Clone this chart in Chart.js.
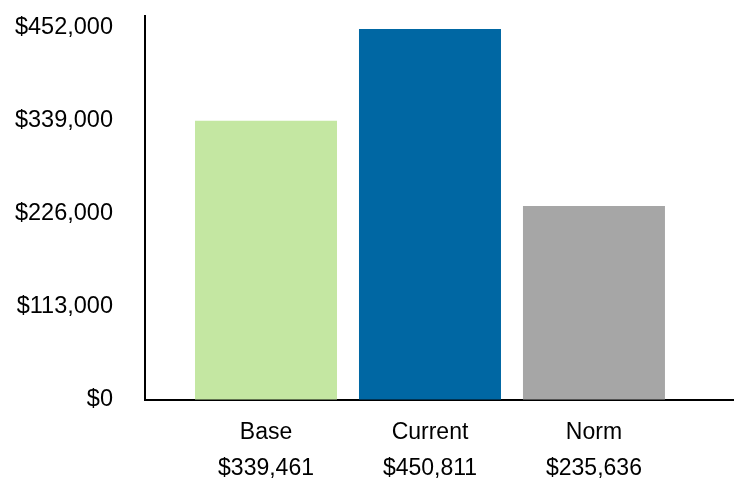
<!DOCTYPE html>
<html lang="en">
<head>
  <meta charset="UTF-8" />
  <title>Base vs Current vs Norm</title>
  <script src="https://cdn.jsdelivr.net/npm/chart.js"></script>
  <style>
    * { margin: 0; padding: 0; box-sizing: border-box; }
    body { background: #fff; overflow: hidden; }
    .wrap { width: 734px; height: 480px; }
  </style>
</head>
<body>
  <div class="wrap"><canvas id="barChart"></canvas></div>

  <script>
    const categories = ['Base', 'Current', 'Norm'];
    const amounts = [339461, 450811, 235636];
    const barColors = ['#c4e7a2', '#0067a3', '#a6a6a6'];
    const yTickValues = [0, 113000, 226000, 339000, 452000];

    const money = v => '$' + v.toLocaleString('en-US');
    const family = "'Liberation Sans', Arial, sans-serif";

    new Chart(document.getElementById('barChart'), {
      type: 'bar',
      data: {
        datasets: [{
          data: amounts.map((v, i) => ({ x: i, y: v })),
          backgroundColor: barColors,
          borderWidth: 0,
          categoryPercentage: 1,
          barPercentage: 0.866
        }]
      },
      options: {
        responsive: true,
        maintainAspectRatio: false,
        animation: false,
        layout: { padding: { top: 16, right: 0, left: 0, bottom: 0 } },
        plugins: { legend: { display: false }, tooltip: { enabled: false } },
        scales: {
          x: {
            type: 'linear',
            offset: false,
            min: -0.738,
            max: 2.854,
            grid: { display: false, drawTicks: false },
            border: { display: true, color: '#000', width: 2 },
            afterBuildTicks: scale => { scale.ticks = categories.map((c, i) => ({ value: i })); },
            afterFit: scale => { scale.height = 80; },
            ticks: {
              color: '#000',
              font: { family, size: 23, lineHeight: 36 / 23 },
              padding: 15,
              maxRotation: 0,
              autoSkip: false,
              callback: v => [categories[v], money(amounts[v])]
            }
          },
          y: {
            min: 0,
            max: 466600,
            // invisible tick marks keep the labels away from the axis line
            grid: { display: true, drawOnChartArea: false, drawTicks: true, tickLength: 32, tickColor: 'rgba(0,0,0,0)' },
            border: { display: true, color: '#000', width: 2 },
            afterBuildTicks: scale => { scale.ticks = yTickValues.map(v => ({ value: v })); },
            afterFit: scale => { scale.width = 145; },
            ticks: {
              color: '#000',
              font: { family, size: 23.5 },
              padding: 0,
              callback: v => money(v)
            }
          }
        }
      }
    });
  </script>
</body>
</html>
